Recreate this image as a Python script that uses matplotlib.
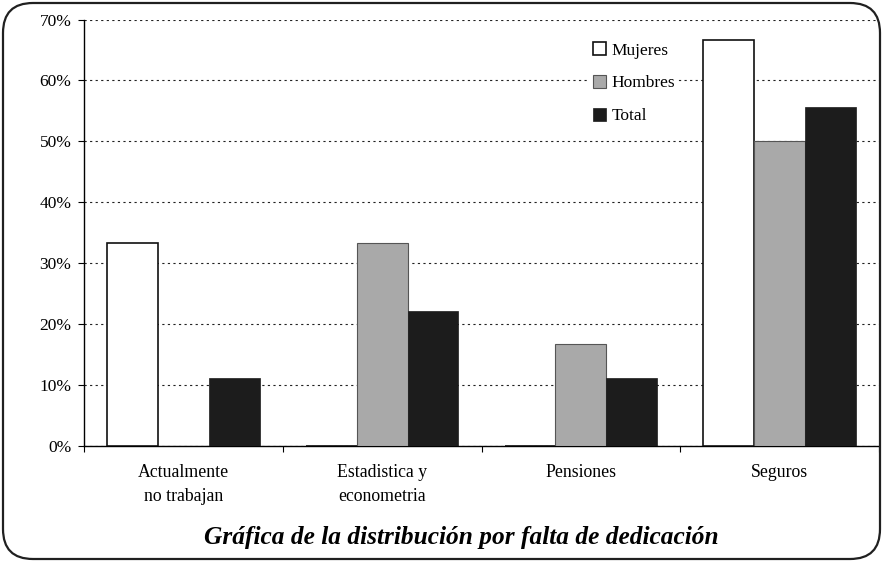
import matplotlib.pyplot as plt
import numpy as np
from matplotlib.patches import FancyBboxPatch

categories = ["Actualmente\nno trabajan", "Estadistica y\neconometria", "Pensiones", "Seguros"]
mujeres = [33.3, 0.0, 0.0, 66.7]
hombres = [0.0, 33.3, 16.7, 50.0]
total = [11.1, 22.2, 11.1, 55.6]
series_names = ["Mujeres", "Hombres", "Total"]
yticks = [0, 10, 20, 30, 40, 50, 60, 70]

plt.rcParams['font.family'] = ['Liberation Serif', 'DejaVu Serif']

fig = plt.figure(figsize=(8.83, 5.62), dpi=100)

# rounded frame around the whole chart
frame = FancyBboxPatch((0.03, 0.03), 8.77, 5.56,
                       boxstyle="round,pad=0,rounding_size=0.3",
                       transform=fig.dpi_scale_trans, facecolor='none',
                       edgecolor='#202020', linewidth=1.6)
fig.patches.append(frame)

ax = fig.add_axes([84/883, 1 - 446/562, 795/883, 426.5/562])

x = np.arange(len(categories))
w = 0.256
ax.bar(x - w, mujeres, w, color='white', edgecolor='#111111', linewidth=1.2,
       label=series_names[0], zorder=3)
ax.bar(x, hombres, w, color='#a9a9a9', edgecolor='#555555', linewidth=0.8,
       label=series_names[1], zorder=3)
ax.bar(x + w, total, w, color='#1c1c1c', edgecolor='#1c1c1c', linewidth=0.5,
       label=series_names[2], zorder=3)

ax.set_xlim(-0.5, len(categories) - 0.5)
ax.set_ylim(0, 70)
ax.set_yticks(yticks)
ax.set_yticklabels([f"{v}%" for v in yticks], fontsize=12.5)
ax.yaxis.grid(True, color='#222222', linestyle=(0, (2, 3)), linewidth=0.8)
ax.set_axisbelow(True)

# category ticks sit on the boundaries, labels in the middle
ax.set_xticks(np.arange(len(categories) + 1) - 0.5)
ax.set_xticklabels([])
ax.set_xticks(x, minor=True)
ax.set_xticklabels(categories, minor=True, fontsize=12.8, linespacing=1.55)
ax.tick_params(axis='x', which='minor', length=0, pad=13)
ax.tick_params(axis='x', which='major', length=4, direction='out')
ax.tick_params(axis='y', length=4, direction='out', pad=5)

for s in ['top', 'right']:
    ax.spines[s].set_visible(False)
ax.spines['left'].set_linewidth(1.0)
ax.spines['bottom'].set_linewidth(1.0)

ax.legend(loc='upper left', bbox_to_anchor=(0.636, 0.955), fontsize=12.5,
          frameon=True, facecolor='white', edgecolor='none', framealpha=1,
          handlelength=0.75, handleheight=0.75, handletextpad=0.3,
          labelspacing=0.95, borderpad=0.2, borderaxespad=0)

fig.text(0.523, 0.044, "Gráfica de la distribución por falta de dedicación",
         ha='center', va='center', fontsize=18.3, fontweight='bold', style='italic')

fig.savefig("out.png", dpi=100)
